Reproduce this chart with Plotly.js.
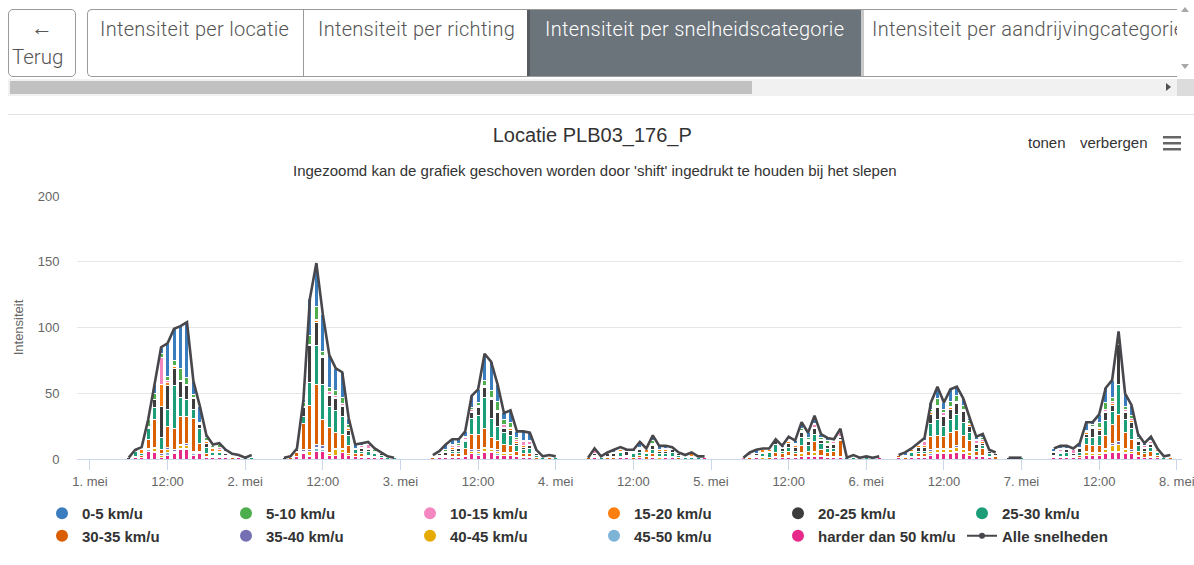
<!DOCTYPE html>
<html><head><meta charset="utf-8">
<script src="https://cdn.plot.ly/plotly-3.0.1.min.js"></script>
<style>
body{margin:0;width:1194px;height:565px;overflow:hidden;background:#fff;position:relative;font-family:Roboto,"Open Sans",sans-serif}
.back{position:absolute;left:8px;top:9px;width:68px;height:68px;border:1px solid #9a9a9a;border-radius:5px;box-sizing:border-box;color:#555;font-weight:300}
.back .ar{position:absolute;left:0;width:66px;text-align:center;top:6px;font-size:22px;line-height:24px;font-weight:400}
.back .tx{position:absolute;left:3px;top:35px;font-size:20.5px;line-height:24px}
.tabs{position:absolute;left:87px;top:9px;width:1090px;height:68px;border:1px solid #9a9a9a;border-right:none;border-radius:5px 0 0 5px;box-sizing:border-box;overflow:hidden}
.tab{position:absolute;top:0;height:68px;box-sizing:border-box;color:#555;font-size:20px;letter-spacing:0.3px;font-weight:300;white-space:nowrap;padding-top:7px;line-height:24px}
.vs{position:absolute;left:1177px;top:0;width:17px;height:79px;background:#fff}
.hs{position:absolute;left:8px;top:79px;width:1169px;height:17px;background:#f1f1f1}
.thumb{position:absolute;left:10px;top:81px;width:742px;height:13px;background:#c1c1c1}
.corner{position:absolute;left:1177px;top:79px;width:17px;height:17px;background:#dcdcdc}
.sep{position:absolute;left:8px;top:114px;width:1186px;height:1px;background:#e3e3e3}
#chart{position:absolute;left:0;top:115px;width:1194px;height:450px}
</style></head>
<body>
<div class="back"><div class="ar">&#8592;</div><div class="tx">Terug</div></div>
<div class="tabs">
  <div class="tab" style="left:0;width:216px;padding-left:12px;border-right:1px solid #9a9a9a">Intensiteit per locatie</div>
  <div class="tab" style="left:216px;width:224px;padding-left:14px;">Intensiteit per richting</div>
  <div class="tab" style="left:439px;width:334px;padding-left:15px;background:#6b737b;color:#fff;border-left:3px solid #555b61">Intensiteit per snelheidscategorie</div>
  <div class="tab" style="left:773px;width:330px;padding-left:8px;border-left:3px solid #c8c8c8">Intensiteit per aandrijvingcategorie</div>
</div>
<div class="vs">
  <div style="position:absolute;left:4px;top:7px;width:0;height:0;border-left:4px solid transparent;border-right:4px solid transparent;border-bottom:5px solid #a8a8a8"></div>
  <div style="position:absolute;left:4px;top:64px;width:0;height:0;border-left:4px solid transparent;border-right:4px solid transparent;border-top:5px solid #a8a8a8"></div>
</div>
<div class="hs"></div>
<div class="thumb"></div>
<div style="position:absolute;left:1166px;top:83px;width:0;height:0;border-top:4px solid transparent;border-bottom:4px solid transparent;border-left:5px solid #505050"></div>
<div class="corner"></div>
<div class="sep"></div>
<div id="chart"></div>
<script>
// hour index (hours since 1 mei 00:00) of each column
const hourIdx = [
 6,7,8,9,10,11,12,13,14,15,16,17,18,19,20,21,22,23,24,25,
 30,31,32,33,34,35,36,37,38,39,40,41,42,43,44,45,46,47,
 53,54,55,56,57,58,59,60,61,62,63,64,65,66,67,68,69,70,71,72,
 77,78,79,80,81,82,83,84,85,86,87,88,89,90,91,92,93,94,95,
 101,102,103,104,105,106,107,108,109,110,111,112,113,114,115,116,117,118,119,120,121,122,
 125,126,127,128,129,130,131,132,133,134,135,136,137,138,139,140,142,143,144,
 149,150,151,152,153,154,155,156,157,158,159,160,161,162,163,164,165,166,167
];
const s0 = [ // 0-5 km/u
 0,0,1,0,7,5,25,24,32,42,10,12,2,1,1,1,1,1,0,1,
 0,0,0,2,28,33,28,25,17,19,5,3,2,1,1,1,0,0,
 0,1,4,4,3,4,9,10,20,22,13,5,9,5,7,6,1,0,1,0,
 0,1,0,1,2,1,1,1,4,1,4,3,2,1,1,0,1,0,0,
 0,1,3,1,1,1,1,2,2,5,4,6,3,2,1,2,0,1,0,0,0,0,
 0,2,1,1,2,5,9,5,9,7,5,2,2,3,1,0,0,0,0,
 2,2,2,1,3,6,2,6,11,13,3,10,8,3,2,3,1,0,1];
const s1 = [ // 5-10 km/u
 0,0,1,5,5,3,3,4,9,5,2,1,2,1,2,1,0,0,0,0,
 0,0,0,3,7,10,3,3,4,5,2,0,0,1,1,0,0,0,
 0,0,1,1,2,1,1,2,4,5,7,4,4,1,1,1,1,0,0,0,
 0,0,0,0,0,1,0,0,1,0,2,0,1,0,0,0,0,0,0,
 0,0,0,0,0,0,0,1,1,1,1,1,1,2,1,1,0,0,0,0,0,0,
 0,0,0,0,1,2,5,3,4,4,3,2,1,1,0,0,0,0,0,
 0,1,0,0,0,1,1,4,5,3,3,2,2,1,0,1,0,0,0];
const s2 = [ // 10-15 km/u
 0,0,0,1,0,20,2,1,0,0,1,0,1,1,2,1,0,0,0,0,
 0,0,0,0,0,1,1,2,1,1,1,0,1,3,1,0,0,0,
 0,0,0,1,1,1,2,1,1,1,1,2,1,2,3,2,0,0,0,0,
 0,3,0,0,0,0,0,0,0,0,1,0,0,1,0,0,0,0,0,
 1,1,0,0,0,0,0,1,1,1,1,2,1,1,1,3,0,0,0,0,0,0,
 0,0,0,1,3,1,1,2,1,1,1,1,2,2,0,0,0,0,0,
 0,1,0,3,0,1,1,1,2,2,1,2,2,1,1,1,0,0,0];
const s3 = [ // 15-20 km/u
 0,0,3,1,0,17,2,1,1,1,0,1,1,2,1,0,0,0,0,0,
 0,0,1,1,1,1,1,1,1,1,1,0,1,1,0,0,0,0,
 1,1,1,2,1,1,1,1,1,1,1,1,1,1,1,1,1,0,0,0,
 0,0,0,0,1,1,0,1,1,2,1,1,1,0,0,1,2,0,0,
 0,0,0,2,1,1,1,1,1,1,1,1,0,1,1,1,0,0,0,0,0,0,
 0,0,1,1,1,1,1,1,1,1,1,1,1,1,0,1,0,0,0,
 1,1,1,0,1,1,1,1,1,1,3,1,1,1,1,1,1,0,0];
const s4 = [ // 20-25 km/u
 1,1,0,0,6,24,18,13,12,11,8,3,3,1,1,1,1,0,0,1,
 1,0,1,7,28,18,20,8,9,8,4,1,2,1,1,1,1,0,
 0,1,2,1,2,1,4,6,7,14,10,3,4,2,2,2,1,1,0,1,
 0,1,1,2,2,1,3,1,2,1,3,2,2,2,1,1,1,1,0,
 0,1,1,1,1,2,2,3,3,4,3,4,2,2,3,1,0,1,0,1,0,0,
 0,1,1,3,3,7,9,7,8,8,8,5,3,2,2,1,1,1,0,
 2,1,2,1,3,3,7,4,6,5,30,5,5,3,2,2,1,1,0];
const s5 = [ // 25-30 km/u
 0,4,1,8,9,9,13,33,15,13,7,11,5,2,2,1,1,1,1,1,
 0,1,1,5,17,29,27,16,17,13,8,3,2,3,2,2,1,1,
 1,1,1,2,2,5,12,14,24,15,11,9,8,4,3,4,2,1,1,1,
 0,1,1,1,1,3,1,3,2,2,3,2,2,3,2,1,1,1,1,
 0,1,1,2,4,6,2,3,2,6,4,6,5,3,2,1,1,1,0,1,1,1,
 0,1,3,2,2,10,12,8,10,12,10,6,2,2,2,1,0,0,1,
 1,2,3,1,2,5,6,8,11,10,23,10,8,4,2,3,2,1,1];
const s6 = [ // 30-35 km/u
 0,1,2,7,21,3,16,16,21,20,25,6,2,1,1,1,1,0,0,0,
 0,1,3,20,34,46,20,19,12,11,6,2,2,1,1,0,0,0,
 1,1,1,2,2,5,12,12,14,8,7,6,5,3,2,2,1,0,1,0,
 1,1,0,1,1,1,1,1,2,2,2,1,1,1,1,0,0,0,0,
 0,1,1,1,1,3,3,3,2,5,3,7,4,3,4,12,0,0,1,0,0,0,
 2,1,1,2,2,10,10,9,12,12,10,8,3,5,1,2,0,0,0,
 1,1,1,1,2,5,5,5,10,14,21,12,8,3,3,4,2,0,1];
const s7 = [ // 35-40 km/u
 0,0,0,0,1,1,2,1,1,2,1,1,0,0,0,0,0,0,0,0,
 0,0,0,1,1,2,2,1,1,1,0,0,0,0,0,0,0,0,
 0,0,0,0,0,0,1,1,1,1,1,1,1,0,0,1,0,0,0,0,
 0,0,0,0,0,0,0,0,0,0,0,0,0,0,0,0,0,0,0,
 0,0,0,0,0,0,0,0,0,1,0,1,0,0,0,0,0,0,0,0,0,0,
 0,0,0,0,0,1,1,1,1,1,1,1,0,0,0,0,0,0,0,
 0,0,0,0,0,1,1,1,1,2,2,1,1,0,0,0,0,0,0];
const s8 = [ // 40-45 km/u
 0,0,0,1,2,2,2,1,2,2,1,1,1,1,1,0,0,0,0,0,
 0,0,0,1,3,1,1,1,4,2,1,0,1,1,0,0,0,0,
 0,0,0,1,1,1,2,2,2,1,2,1,1,1,1,0,0,0,0,0,
 0,0,0,0,0,0,0,0,0,0,1,1,0,0,0,0,0,0,0,
 0,0,0,1,0,1,0,1,1,2,1,2,1,1,1,1,0,0,0,0,0,0,
 0,0,0,1,1,2,2,2,2,3,2,2,1,1,0,0,0,0,0,
 0,0,0,0,0,2,1,1,2,4,5,2,2,1,0,1,0,0,0];
const s9 = [ // 45-50 km/u
 0,0,0,1,1,0,2,1,1,1,1,0,0,0,0,0,0,0,0,0,
 0,0,0,1,1,2,1,0,0,0,0,0,0,0,0,0,0,0,
 0,0,0,0,0,0,0,1,1,1,1,0,0,0,0,0,0,0,0,0,
 0,0,0,0,0,0,0,0,0,0,0,0,0,0,0,0,0,0,0,
 0,0,0,0,0,0,0,1,0,0,0,1,0,0,0,0,0,0,0,0,0,0,
 0,0,0,0,0,1,1,1,1,1,1,0,0,0,0,0,0,0,0,
 0,0,0,0,0,0,0,0,1,1,1,1,0,0,0,0,0,0,0];
const s10 = [ // harder dan 50 km/u
 0,1,1,6,5,1,3,4,7,7,3,4,1,1,1,1,0,1,0,0,
 0,0,2,4,2,6,6,3,3,5,3,2,1,1,1,1,0,0,
 0,1,1,1,1,2,4,3,5,5,3,3,3,2,1,1,0,0,0,0,
 0,1,0,0,0,1,1,0,1,0,1,0,1,1,0,0,0,0,1,
 0,0,1,0,0,1,1,1,1,2,2,2,2,1,1,1,0,0,0,0,0,1,
 1,0,1,1,1,3,4,4,4,5,4,3,2,2,1,0,0,0,0,
 1,1,1,1,1,3,3,3,4,5,5,4,4,2,1,1,1,0,0];

const seriesNames = ['0-5 km/u','5-10 km/u','10-15 km/u','15-20 km/u','20-25 km/u','25-30 km/u',
  '30-35 km/u','35-40 km/u','40-45 km/u','45-50 km/u','harder dan 50 km/u'];
const seriesColors = ['#3a7dbf','#4cae4c','#f587c0','#ff7f0e','#3c3c3c','#1b9e77',
  '#d95f02','#7570b3','#e6ab02','#7eb3d8','#e7298a'];
const totalName = 'Alle snelheden';
const tickLabels = ['1. mei','12:00','2. mei','12:00','3. mei','12:00','4. mei','12:00',
  '5. mei','12:00','6. mei','12:00','7. mei','12:00','8. mei'];

const series = [s0,s1,s2,s3,s4,s5,s6,s7,s8,s9,s10];
const base = Date.UTC(2023,4,1);
const HOUR = 3600000;
const fmt = ms => new Date(ms).toISOString().slice(0,16).replace('T',' ');
const xs = hourIdx.map(h => fmt(base + h*HOUR));

const traces = [];
// stack: last category at the bottom, 0-5 km/u on top
for (let k = series.length-1; k >= 0; k--) {
  traces.push({type:'bar', x: xs, y: series[k], name: seriesNames[k], width: 0.62*HOUR,
    marker:{color: seriesColors[k], line:{color:'#ffffff', width:1}}, showlegend:false, hoverinfo:'skip'});
}
// total line with gaps where there is no data
const lineX = [], lineY = [];
const pos = {};
hourIdx.forEach((h,i) => pos[h] = i);
for (let h = hourIdx[0]; h <= hourIdx[hourIdx.length-1]; h++) {
  lineX.push(fmt(base + h*HOUR));
  if (h in pos) { let t = 0; series.forEach(s => t += s[pos[h]]); lineY.push(t); }
  else lineY.push(null);
}
traces.push({type:'scatter', mode:'lines', x: lineX, y: lineY, connectgaps:false,
  line:{color:'#47474c', width:2.6}, showlegend:false, hoverinfo:'skip'});
// legend entries
seriesNames.forEach((n,k) => traces.push({type:'scatter', mode:'markers', x:[null], y:[null], name:n,
  marker:{symbol:'circle', size:12, color: seriesColors[k]}}));
traces.push({type:'scatter', mode:'lines+markers', x:[null], y:[null], name: totalName,
  line:{color:'#47474c', width:2}, marker:{symbol:'circle', size:6, color:'#47474c'}});

const tickVals = tickLabels.map((t,i) => fmt(base + i*12*HOUR));
const F = '"Liberation Sans", Arial, sans-serif';
const layout = {
  width:1194, height:450, margin:{l:77, r:12, t:81, b:106},
  paper_bgcolor:'#fff', plot_bgcolor:'#fff', barmode:'stack', bargap:0,
  font:{family:F, color:'#666'},
  title:{text:'Locatie PLB03_176_P', font:{family:F, size:20, color:'#333'}, x:0.496, xref:'container', y:1-20/450, yref:'container', yanchor:'middle'},
  xaxis:{type:'date', range:[fmt(base-2*HOUR), fmt(base+168.8*HOUR)], tickmode:'array', tickvals:tickVals, ticktext:tickLabels,
    showgrid:false, zeroline:false, showline:true, linecolor:'#ccd6eb', linewidth:1, ticks:'outside', ticklen:10, tickcolor:'#ccd6eb', tickwidth:1,
    tickfont:{size:13, color:'#666', family:F}, ticklabeloverflow:'allow', fixedrange:true},
  yaxis:{range:[0,200], tickvals:[0,50,100,150,200], gridcolor:'#e6e6e6', gridwidth:1, zeroline:false, showline:false,
    ticks:'outside', ticklen:14, tickcolor:'rgba(0,0,0,0)', tickfont:{size:13, color:'#666', family:F},
    title:{text:'Intensiteit', font:{size:13, color:'#666', family:F}, standoff:11}, fixedrange:true},
  legend:{orientation:'h', traceorder:'normal', xref:'container', yref:'container', x:42/1194, y:1-382/450, xanchor:'left', yanchor:'top',
    entrywidth:139, entrywidthmode:'pixels', itemwidth:30, font:{family:F, size:15, color:'#333', weight:'bold'}, tracegroupgap:0, itemclick:false},
  annotations:[
    {text:"Ingezoomd kan de grafiek geschoven worden door 'shift' ingedrukt te houden bij het slepen", xref:'paper', yref:'paper',
     x:(595-77)/1105, y:1+26/263, xanchor:'center', yanchor:'middle', showarrow:false, font:{family:F, size:15, color:'#333'}},
    {text:'tonen', xref:'paper', yref:'paper', x:(1047-77)/1105, y:1+54/263, xanchor:'center', yanchor:'middle', showarrow:false, font:{family:F, size:15, color:'#333'}},
    {text:'verbergen', xref:'paper', yref:'paper', x:(1114-77)/1105, y:1+54/263, xanchor:'center', yanchor:'middle', showarrow:false, font:{family:F, size:15, color:'#333'}}
  ],
  shapes:[0,1,2].map(i => ({type:'rect', xref:'paper', yref:'paper', x0:(1163-77)/1105, x1:(1181-77)/1105,
     y0:1+(60-i*6)/263, y1:1+(57.5-i*6)/263, fillcolor:'#666', line:{width:0}}))
};
Plotly.newPlot('chart', traces, layout, {displayModeBar:false, staticPlot:true});
</script>
</body></html>
